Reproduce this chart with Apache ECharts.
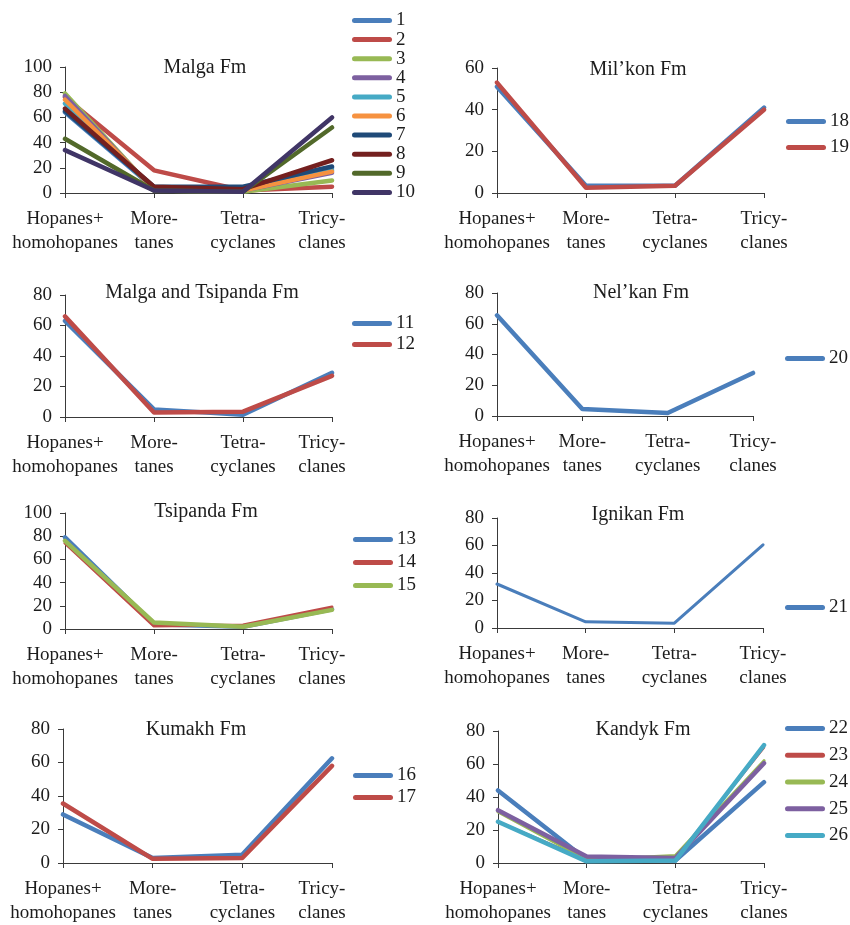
<!DOCTYPE html>
<html>
<head>
<meta charset="utf-8">
<title>Hydrocarbon biomarker distributions by formation</title>
<script src="https://cdn.jsdelivr.net/npm/echarts@6/dist/echarts.min.js"></script>
<style>
  html, body { margin: 0; padding: 0; background: #fff; }
  #chart { width: 850px; height: 925px; }
</style>
</head>
<body>
<div id="chart"></div>
<script>
// Compound groups on the horizontal axis
const categories = ['Hopanes+\nhomohopanes', 'More-\ntanes', 'Tetra-\ncyclanes', 'Tricy-\nclanes'];

// Relative content (%) per sample: [hopanes+homohopanes, moretanes, tetracyclanes, tricyclanes]
// Malga Fm
const s1 = [64, 4, 4, 20];
const s2 = [76, 18, 2, 5];
const s3 = [79, 2, 1, 10];
const s4 = [77, 2, 2, 16];
const s5 = [71, 3, 2, 18];
const s6 = [74, 3, 2, 17];
const s7 = [65, 5, 5, 21];
const s8 = [67, 5, 3, 26];
const s9 = [43, 2, 1, 52];
const s10 = [34, 2, 1, 60];
// Malga and Tsipanda Fm
const s11 = [63, 5, 1.5, 29];
const s12 = [66, 3, 3.5, 27];
// Tsipanda Fm
const s13 = [79, 4, 2, 17];
const s14 = [74, 2.5, 3.5, 19];
const s15 = [76, 5.5, 2, 16.5];
// Kumakh Fm
const s16 = [29, 3, 5, 62.5];
const s17 = [35.5, 2.5, 3, 58];
// Mil'kon Fm
const s18 = [51, 3.5, 3.5, 41];
const s19 = [53, 2.5, 3.5, 40];
// Nel'kan Fm
const s20 = [65.5, 4.5, 2, 28];
// Ignikan Fm
const s21 = [32, 4.5, 3.5, 60.5];
// Kandyk Fm
const s22 = [44, 2, 1.5, 49];
const s23 = [25, 2, 2.5, 70];
const s24 = [31, 2, 4.5, 62];
const s25 = [32, 4, 3, 60.5];
const s26 = [25, 1, 1.5, 71.5];

// Y-axis upper limits for each panel
const yMax = [100, 60, 80, 80, 100, 80, 80, 80];

const BLUE = '#4A7EBB', RED = '#BE4B48', GREEN = '#98B954', PURPLE = '#7D60A0', CYAN = '#46AAC5';
const palette = {
  '1': BLUE, '2': RED, '3': GREEN, '4': PURPLE, '5': CYAN, '6': '#F69240',
  '7': '#1F4A78', '8': '#74201F', '9': '#52692A', '10': '#403566',
  '11': BLUE, '12': RED, '13': BLUE, '14': RED, '15': GREEN,
  '16': BLUE, '17': RED, '18': BLUE, '19': RED, '20': BLUE, '21': BLUE,
  '22': BLUE, '23': RED, '24': GREEN, '25': PURPLE, '26': CYAN
};
const widths = { '14': 3, '21': 3, '23': 2.5, '24': 3 };

const FONT = 'Liberation Serif';
const TEXT = '#1c1c1c';
const AXIS = '#3a3a3a';

const panels = [
  { title: 'Malga Fm', names: ['1','2','3','4','5','6','7','8','9','10'],
    values: [s1, s2, s3, s4, s5, s6, s7, s8, s9, s10],
    grid: { left: 65, top: 67, width: 267, height: 126 }, tx: 205, ty: 58,
    legend: { left: 352, top: 11, gap: 0.1 }, shiftLast: true },
  { title: 'Mil\u2019kon Fm', names: ['18','19'], values: [s18, s19],
    grid: { left: 497, top: 68, width: 267, height: 125 }, tx: 638, ty: 60,
    legend: { left: 786, top: 112, gap: 7 }, shiftLast: false },
  { title: 'Malga and Tsipanda Fm', names: ['11','12'], values: [s11, s12],
    grid: { left: 65, top: 295, width: 267, height: 122 }, tx: 202, ty: 283,
    legend: { left: 352, top: 314, gap: 2 }, shiftLast: true },
  { title: 'Nel\u2019kan Fm', names: ['20'], values: [s20],
    grid: { left: 497, top: 293, width: 256, height: 123 }, tx: 641, ty: 283,
    legend: { left: 785, top: 349, gap: 5 }, shiftLast: false },
  { title: 'Tsipanda Fm', names: ['13','14','15'], values: [s13, s14, s15],
    grid: { left: 65, top: 513, width: 267, height: 116 }, tx: 206, ty: 502,
    legend: { left: 353, top: 530, gap: 4 }, shiftLast: true },
  { title: 'Ignikan Fm', names: ['21'], values: [s21],
    grid: { left: 497, top: 518, width: 266, height: 110 }, tx: 638, ty: 505,
    legend: { left: 785, top: 598, gap: 5 }, shiftLast: false },
  { title: 'Kumakh Fm', names: ['16','17'], values: [s16, s17],
    grid: { left: 63, top: 729, width: 269, height: 138 }, tx: 196, ty: 720,
    legend: { left: 353, top: 766, gap: 3 }, shiftLast: true },
  { title: 'Kandyk Fm', names: ['22','23','24','25','26'], values: [s22, s23, s24, s25, s26],
    grid: { left: 498, top: 731, width: 266, height: 136 }, tx: 643, ty: 720,
    legend: { left: 785, top: 719, gap: 7.75 }, shiftLast: false }
];

// Rounded bar used as the legend key
const pill = 'path://M0,2.5A2.5,2.5,0,0,1,2.5,0H37.5A2.5,2.5,0,0,1,37.5,5H2.5A2.5,2.5,0,0,1,0,2.5Z';

const labelStyle = { fontFamily: FONT, fontSize: 19, color: TEXT, lineHeight: 24 };

const option = {
  animation: false,
  backgroundColor: '#fff',
  title: [], grid: [], xAxis: [], yAxis: [], legend: [], series: []
};

panels.forEach((p, i) => {
  option.title.push({
    text: p.title, left: p.tx, top: p.ty, textAlign: 'center', padding: 0,
    textStyle: { fontFamily: FONT, fontSize: 20, fontWeight: 'normal', color: TEXT }
  });
  option.grid.push(Object.assign({ containLabel: false }, p.grid));
  option.xAxis.push({
    type: 'category', gridIndex: i, data: categories, boundaryGap: false,
    axisLine: { lineStyle: { color: AXIS, width: 1 } },
    axisTick: { show: true, length: 5, lineStyle: { color: AXIS } },
    axisLabel: Object.assign({}, labelStyle, {
      interval: 0, margin: 14,
      formatter: (v, idx) => {
        if (p.shiftLast && idx === 3) {
          return v.split('\n').map(t => '{s|' + t + '}').join('\n');
        }
        return v;
      },
      rich: { s: Object.assign({}, labelStyle, { padding: [0, 20, 0, 0] }) }
    }),
    splitLine: { show: false }
  });
  option.yAxis.push({
    type: 'value', gridIndex: i, min: 0, max: yMax[i], interval: 20,
    axisLine: { show: true, lineStyle: { color: AXIS, width: 1 } },
    axisTick: { show: true, length: 5, lineStyle: { color: AXIS } },
    axisLabel: Object.assign({}, labelStyle, { margin: 13, lineHeight: 19 }),
    splitLine: { show: false }
  });
  option.legend.push({
    data: p.names, orient: 'vertical', left: p.legend.left, top: p.legend.top,
    itemGap: p.legend.gap, itemWidth: 40, itemHeight: 5, icon: pill, padding: 0,
    selectedMode: false,
    textStyle: { fontFamily: FONT, fontSize: 19, color: TEXT, lineHeight: 14, padding: [0, 0, 0, -1] }
  });
  p.names.forEach((name, k) => {
    const c = palette[name];
    option.series.push({
      name: name, type: 'line', xAxisIndex: i, yAxisIndex: i,
      data: p.values[k], symbol: 'none', showSymbol: false,
      color: c, itemStyle: { color: c },
      lineStyle: { color: c, width: widths[name] || 4.5, cap: 'round', join: 'round' },
      emphasis: { disabled: true }
    });
  });
});

const chart = echarts.init(document.getElementById('chart'), null, { renderer: 'canvas' });
chart.setOption(option);
</script>
</body>
</html>
